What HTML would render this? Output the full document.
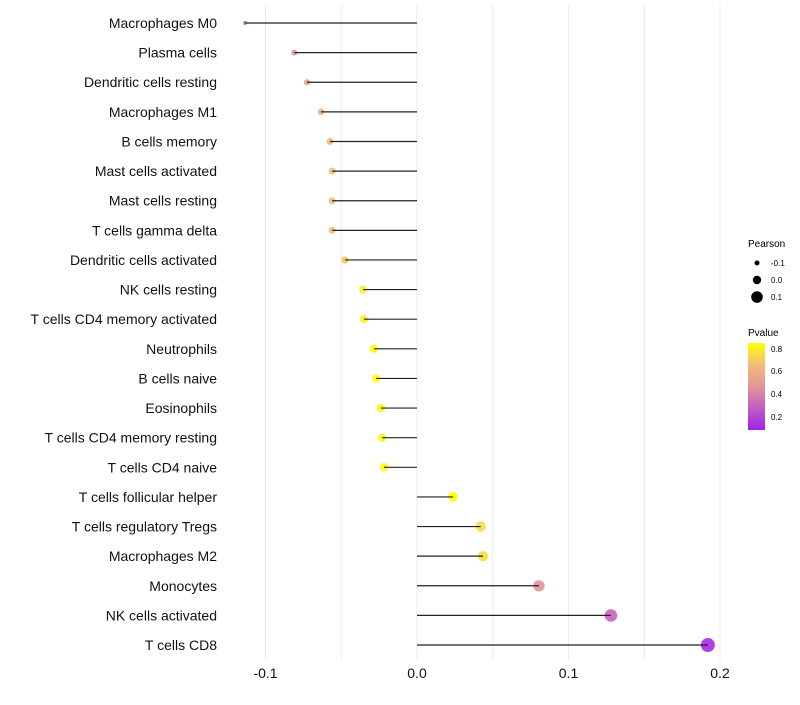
<!DOCTYPE html>
<html><head><meta charset="utf-8"><style>
body{margin:0;background:#fff;font-family:"Liberation Sans",sans-serif;}
</style></head><body>
<svg id="chart" width="800" height="700" xmlns="http://www.w3.org/2000/svg" font-family="Liberation Sans, sans-serif">
<defs><linearGradient id="pg" x1="0" y1="1" x2="0" y2="0">
<stop offset="0" stop-color="#A020F0"/><stop offset="0.47" stop-color="#E0909C"/><stop offset="0.75" stop-color="#F2BC7C"/><stop offset="1" stop-color="#FFFF00"/></linearGradient></defs>
<g id="grid"></g><g id="points"></g><g id="marks"></g><g id="labels"></g>
<g>
<text x="748" y="247" font-size="10">Pearson</text>
<circle cx="757" cy="263" r="2.5" fill="#000"/>
<text x="771" y="266" font-size="8">-0.1</text>
<circle cx="757" cy="280" r="4.2" fill="#000"/>
<text x="771" y="283" font-size="8">0.0</text>
<circle cx="757" cy="297" r="5.8" fill="#000"/>
<text x="771" y="300" font-size="8">0.1</text>
<text x="748" y="336" font-size="10">Pvalue</text>
<rect x="748" y="343" width="17" height="87" fill="url(#pg)"/>
<text x="771" y="352" font-size="8">0.8</text>
<text x="771" y="374" font-size="8">0.6</text>
<text x="771" y="397" font-size="8">0.4</text>
<text x="771" y="420" font-size="8">0.2</text>
</g>
</svg>
<script>
const categories=["Macrophages M0","Plasma cells","Dendritic cells resting","Macrophages M1","B cells memory","Mast cells activated","Mast cells resting","T cells gamma delta","Dendritic cells activated","NK cells resting","T cells CD4 memory activated","Neutrophils","B cells naive","Eosinophils","T cells CD4 memory resting","T cells CD4 naive","T cells follicular helper","T cells regulatory  Tregs ","Macrophages M2","Monocytes","NK cells activated","T cells CD8"];
const pearson=[-0.1135,-0.081,-0.0726,-0.0634,-0.0574,-0.056,-0.056,-0.056,-0.0475,-0.0356,-0.035,-0.0284,-0.027,-0.0238,-0.023,-0.0218,0.0238,0.042,0.0436,0.0805,0.128,0.192];
const pvalue=[0.33,0.47,0.55,0.62,0.65,0.66,0.66,0.66,0.7,0.8,0.8,0.84,0.84,0.83,0.82,0.84,0.85,0.75,0.75,0.47,0.3,0.12];
const xTicks=[-0.1,0,0.1,0.2];
const xTickLabels=["-0.1","0.0","0.1","0.2"];
const NS="http://www.w3.org/2000/svg";
const x=v=>417+v*1515;
const y=i=>23+i*29.62;
const cStops=[[0.085,[160,32,240]],[0.445,[224,144,156]],[0.66,[242,188,124]],[0.85,[255,255,0]]];
function col(p){p=Math.max(0.085,Math.min(0.85,p));
for(let k=0;k<cStops.length-1;k++){const [p0,a]=cStops[k],[p1,b]=cStops[k+1];
if(p<=p1){const u=(p-p0)/(p1-p0);return `rgb(${a.map((c,j)=>Math.round(c+(b[j]-c)*u)).join(",")})`;}}
return "rgb(255,255,0)";}
function mk(tag,at,parent){const e=document.createElementNS(NS,tag);for(const k in at)e.setAttribute(k,at[k]);document.getElementById(parent).appendChild(e);return e;}
[-0.1,-0.05,0,0.05,0.1,0.15,0.2].forEach(v=>{const l=mk("line",{x1:x(v),x2:x(v),y1:5,y2:660,stroke:"#ebebeb","stroke-width":1},"grid");

});
xTicks.forEach((v,i)=>{const t=mk("text",{x:x(v),y:678,"font-size":14,"text-anchor":"middle",fill:"#111"},"labels");t.textContent=xTickLabels[i];

});
categories.forEach((c,i)=>{
const t=mk("text",{x:217,y:y(i)+5,"font-size":14,"text-anchor":"end",fill:"#111"},"labels");t.textContent=c;


const r=Math.sqrt(Math.max(2,20.7+147*pearson[i]));
const d=mk("circle",{cx:x(pearson[i]),cy:y(i),r:r,fill:col(pvalue[i]),"fill-opacity":0.9},"points");


const l=mk("line",{x1:x(0),x2:x(pearson[i]),y1:y(i),y2:y(i),stroke:"#222","stroke-width":1.2},"marks");


});
</script>
</body></html>
